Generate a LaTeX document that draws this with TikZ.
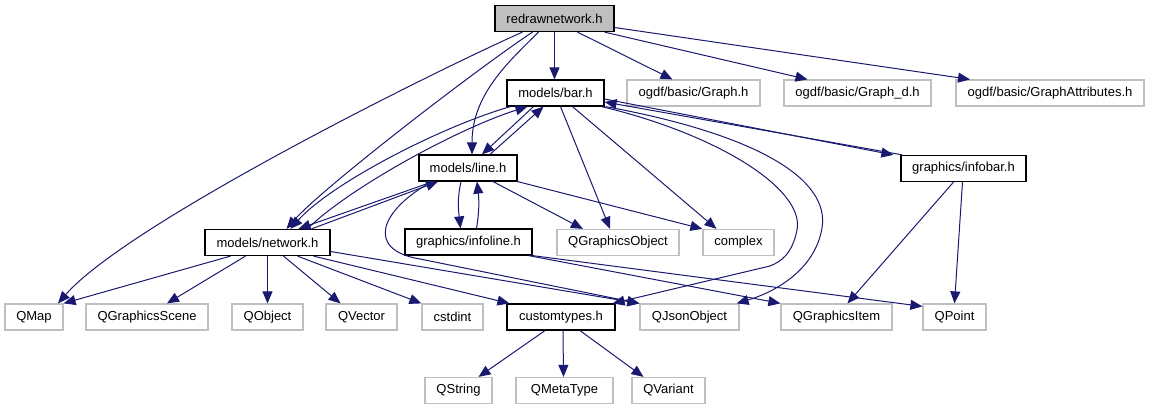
\documentclass[tikz,border=0pt]{standalone}
\usepackage{fontspec}
\setmainfont{Liberation Sans}
\usetikzlibrary{arrows.meta}
\definecolor{edgeblue}{HTML}{191970}
\definecolor{boxgray}{HTML}{BFBFBF}
\begin{document}
\begin{tikzpicture}[x=1pt,y=-1pt,
  hdr/.style={draw=black,line width=1.2pt,inner sep=0pt,minimum height=26pt,font=\fontsize{13}{15}\selectfont,text=black},
  ext/.style={hdr,draw=boxgray},
  mainhdr/.style={hdr,fill=boxgray},
  dep/.style={draw=edgeblue,line width=1pt,-{Triangle[length=12pt,width=10pt]}}]
\useasboundingbox (0,0) rectangle (1149,411);
% nodes
\node[mainhdr,minimum width=119pt] (redraw) at (554.5,18.5) {redrawnetwork.h};
\node[hdr,minimum width=97pt] (bar) at (555.5,93) {models/bar.h};
\node[ext,minimum width=133pt] (graph) at (693.5,93) {ogdf/basic/Graph.h};
\node[ext,minimum width=147pt] (graphd) at (857.5,93) {ogdf/basic/Graph\_d.h};
\node[ext,minimum width=188pt] (gattr) at (1050,93) {ogdf/basic/GraphAttributes.h};
\node[hdr,minimum width=125pt] (infobar) at (963.5,168.5) {graphics/infobar.h};
\node[hdr,minimum width=98pt] (line) at (468,168) {models/line.h};
\node[hdr,minimum width=127pt] (infoline) at (468.5,242) {graphics/infoline.h};
\node[ext,minimum width=122pt] (qgo) at (618,242.5) {QGraphicsObject};
\node[ext,minimum width=71pt] (complex) at (738.5,242.5) {complex};
\node[hdr,minimum width=125pt] (network) at (267.5,242.5) {models/network.h};
\node[ext,minimum width=58pt] (qmap) at (34,317) {QMap};
\node[ext,minimum width=122pt] (qgs) at (147,317) {QGraphicsScene};
\node[ext,minimum width=71pt] (qobject) at (267.5,317) {QObject};
\node[ext,minimum width=71pt] (qvector) at (361.5,317) {QVector};
\node[ext,minimum width=61pt] (cstdint) at (452.5,317) {cstdint};
\node[hdr,minimum width=108pt] (customtypes) at (561,317) {customtypes.h};
\node[ext,minimum width=99pt] (qjson) at (689.5,317) {QJsonObject};
\node[ext,minimum width=111pt] (qgi) at (836.5,317) {QGraphicsItem};
\node[ext,minimum width=63pt] (qpoint) at (954.5,317) {QPoint};
\node[ext,minimum width=67pt] (qstring) at (458.5,390.5) {QString};
\node[ext,minimum width=97pt] (qmetatype) at (564.5,390.5) {QMetaType};
\node[ext,minimum width=73pt] (qvariant) at (668.5,390.5) {QVariant};
% edges from redrawnetwork.h
\draw[dep] (redraw.south) -- (redraw.south |- bar.north);
\draw[dep] ([xshift=23pt]redraw.south) -- ([xshift=-21pt]graph.north);
\draw[dep] ([xshift=50pt]redraw.south) -- ([xshift=-50pt]graphd.north);
\draw[dep] ([yshift=-9pt]redraw.east) -- ([xshift=-80pt]gattr.north);
\draw[dep] ([xshift=-16pt]redraw.south) .. controls +(-30,30) and +(0,-60) .. ([xshift=4pt]line.north);
\draw[dep] ([xshift=-22pt]redraw.south) .. controls +(-60,40) and +(35,-40) .. ([xshift=19pt]network.north);
\draw[dep] ([xshift=-32pt]redraw.south) .. controls +(-90,40) and +(70,-80) .. ([xshift=24pt]qmap.north);
% bar / line / network cycles
\draw[dep] ([xshift=-22pt]bar.south) -- ([xshift=14pt]line.north);
\draw[dep] ([xshift=22pt]line.north) -- ([xshift=-12pt]bar.south);
\draw[dep] ([xshift=-45pt]bar.south) .. controls +(-70,20) and +(40,-45) .. ([xshift=23pt]network.north);
\draw[dep] ([xshift=40pt]network.north) .. controls +(40,-40) and +(-70,22) .. ([xshift=-28pt]bar.south);
\draw[dep] ([xshift=-35pt]line.south) -- ([xshift=31pt]network.north);
\draw[dep] ([xshift=44pt]network.north) -- ([xshift=-30pt]line.south);
% from bar.h
\draw[dep] ([xshift=5pt]bar.south) -- ([xshift=-8pt]qgo.north);
\draw[dep] ([xshift=17pt]bar.south) -- ([xshift=-22pt]complex.north);
\draw[dep] ([yshift=-6pt]bar.east) -- ([xshift=-7pt]infobar.north west);
\draw[dep] ([xshift=2pt]infobar.north west) -- ([yshift=-9pt]bar.east);
\draw[dep] ([xshift=-3pt]bar.south east) .. controls (720,135) and (805,190) .. (797,230)
  .. controls (792,255) and (780,262) .. (770,266) -- ([xshift=-3pt]customtypes.north east);
\draw[dep] ([xshift=1pt]bar.south east) .. controls (760,135) and (830,180) .. (822,228)
  .. controls (815,270) and (775,292) .. ([xshift=-3pt]qjson.north east);
% from line.h
\draw[dep] ([xshift=-7pt]line.south) .. controls +(-4,18) and +(-2,-18) .. ([xshift=-8pt]infoline.north);
\draw[dep] ([xshift=8pt]infoline.north) .. controls +(3,-18) and +(2,18) .. ([xshift=9pt]line.south);
\draw[dep] ([xshift=25pt]line.south) -- ([xshift=-35pt]qgo.north);
\draw[dep] (line.south east) -- (complex.north west);
\draw[dep] ([xshift=-36pt]line.south) .. controls (380,210) and (365,250) .. (420,259) -- (qjson.north west);
% from network.h
\draw[dep] ([xshift=-37pt]network.south) -- (qmap.north east);
\draw[dep] ([xshift=-22pt]network.south) -- ([xshift=20pt]qgs.north);
\draw[dep] (network.south) -- (qobject.north);
\draw[dep] ([xshift=16pt]network.south) -- ([xshift=-21pt]qvector.north);
\draw[dep] ([xshift=30pt]network.south) -- (cstdint.north west);
\draw[dep] ([xshift=46pt]network.south) -- ([xshift=3pt]customtypes.north west);
\draw[dep] ([yshift=-9pt]network.east) -- (qjson.north west);
% from infoline.h
\draw[dep] ([xshift=-4pt]infoline.south east) -- (qgi.north west);
\draw[dep] (infoline.south east) -- ([yshift=-3pt]qpoint.north west);
% from infobar.h
\draw[dep] ([xshift=-10pt]infobar.south) -- ([xshift=11pt]qgi.north);
\draw[dep] ([xshift=-1pt]infobar.south) -- (qpoint.north);
% from customtypes.h
\draw[dep] ([xshift=-16pt]customtypes.south) -- ([xshift=20pt]qstring.north);
\draw[dep] ([xshift=2pt]customtypes.south) -- ([xshift=-1pt]qmetatype.north);
\draw[dep] ([xshift=19pt]customtypes.south) -- ([xshift=-25pt]qvariant.north);
\end{tikzpicture}
\end{document}
